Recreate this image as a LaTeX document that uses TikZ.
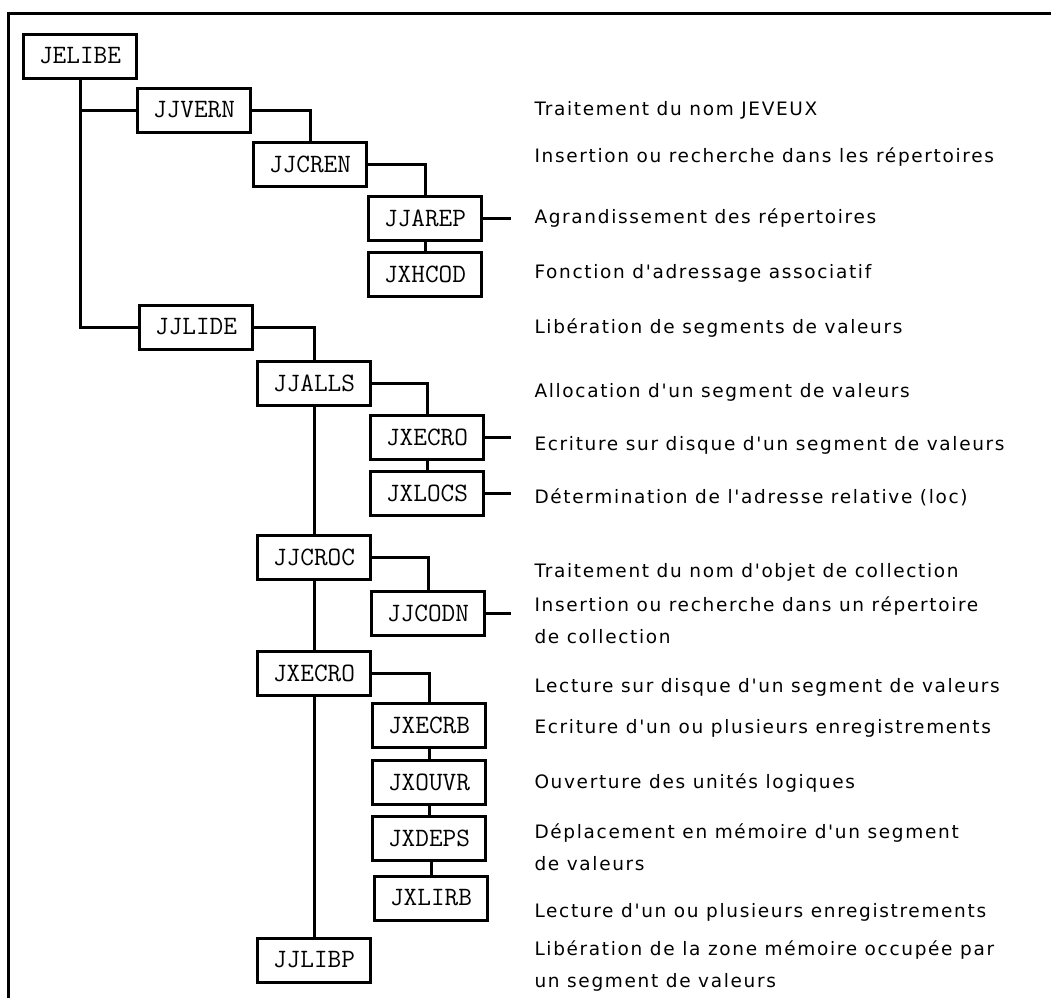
\documentclass[tikz,border=0pt]{standalone}
\usepackage{fontspec}
\newfontfamily\descfont[LetterSpace=9]{DejaVu Sans}
\usetikzlibrary{positioning}

\begin{document}
\begin{tikzpicture}[x=1pt,y=-1pt,line width=3pt]
\tikzstyle{routine}=[draw,line width=3pt,minimum width=113pt,minimum height=44pt,inner sep=0pt,font=\ttfamily\fontsize{26.5}{30}\selectfont]
\tikzstyle{desc}=[anchor=base west,inner sep=0pt,align=left,font=\descfont\fontsize{18.5}{32}\selectfont]
\useasboundingbox (0,0) rectangle (1051,997);
\draw (1060,13) -- (8.5,13) -- (8.5,1010);
\node[routine] (jelibe) at (80,56) {JELIBE};
\node[routine] (jjvern) at (194,110) {JJVERN};
\node[routine] (jjcren) at (310,164) {JJCREN};
\node[routine] (jjarep) at (425,218) {JJAREP};
\node[routine,below=9pt of jjarep] (jxhcod) {JXHCOD};
\node[routine] (jjlide) at (196,327) {JJLIDE};
\node[routine] (jjalls) at (314,383) {JJALLS};
\node[routine] (jxecro) at (427,437) {JXECRO};
\node[routine,below=9pt of jxecro] (jxlocs) {JXLOCS};
\node[routine] (jjcroc) at (314,557) {JJCROC};
\node[routine] (jjcodn) at (428,613) {JJCODN};
\node[routine] (jxecrl) at (314,673) {JXECRO};
\node[routine] (jxecrb) at (429,725) {JXECRB};
\node[routine,below=10pt of jxecrb] (jxouvr) {JXOUVR};
\node[routine,below=9pt of jxouvr] (jxdeps) {JXDEPS};
\node[routine,below=13pt of jxdeps,xshift=2pt] (jxlirb) {JXLIRB};
\node[routine] (jjlibp) at (314,960) {JJLIBP};
\draw (jelibe.south) |- (jjvern.west);
\draw (jelibe.south) |- (jjlide.west);
\draw (jjvern.east) -| (jjcren.north);
\draw (jjcren.east) -| (jjarep.north);
\draw (jjarep.south) -- (jxhcod.north);
\draw (jjlide.east) -| (jjalls.north);
\draw (jjalls.east) -| (jxecro.north);
\draw (jxecro.south) -- (jxlocs.north);
\draw (jjalls.south) -- (jjcroc.north);
\draw (jjcroc.east) -| (jjcodn.north);
\draw (jjcroc.south) -- (jxecrl.north);
\draw (jxecrl.east) -| (jxecrb.north);
\draw (jxecrb.south) -- (jxouvr.north);
\draw (jxouvr.south) -- (jxdeps.north);
\draw (jxlirb.north) -- (jxlirb.north |- jxdeps.south);
\draw (jxecrl.south) -- (jjlibp.north);
\coordinate (stub) at (511,0);
\foreach \n in {jjarep,jxecro,jxlocs,jjcodn}
  \draw (\n.east) -- (\n.east -| stub);
\node[desc] (d-jjvern) at (533,115) {Traitement du nom JEVEUX};
\node[desc] (d-jjcren) at (533,162) {Insertion ou recherche dans les répertoires};
\node[desc] (d-jjarep) at (533,223) {Agrandissement des répertoires};
\node[desc] (d-jxhcod) at (533,278) {Fonction d'adressage associatif};
\node[desc] (d-jjlide) at (533,333) {Libération de segments de valeurs};
\node[desc] (d-jjalls) at (533,397) {Allocation d'un segment de valeurs};
\node[desc] (d-jxecro) at (533,450) {Ecriture sur disque d'un segment de valeurs};
\node[desc] (d-jxlocs) at (533,503) {Détermination de l'adresse relative (loc)};
\node[desc] (d-jjcroc) at (533,577) {Traitement du nom d'objet de collection};
\node[desc] (d-jjcodn) at (533,643) {Insertion ou recherche dans un répertoire\\de collection};
\node[desc] (d-jxecrl) at (533,692) {Lecture sur disque d'un segment de valeurs};
\node[desc] (d-jxecrb) at (533,733) {Ecriture d'un ou plusieurs enregistrements};
\node[desc] (d-jxouvr) at (533,788) {Ouverture des unités logiques};
\node[desc] (d-jxdeps) at (533,870) {Déplacement en mémoire d'un segment\\de valeurs};
\node[desc] (d-jxlirb) at (533,917) {Lecture d'un ou plusieurs enregistrements};
\node[desc] (d-jjlibp) at (533,987) {Libération de la zone mémoire occupée par\\un segment de valeurs};
\end{tikzpicture}
\end{document}
